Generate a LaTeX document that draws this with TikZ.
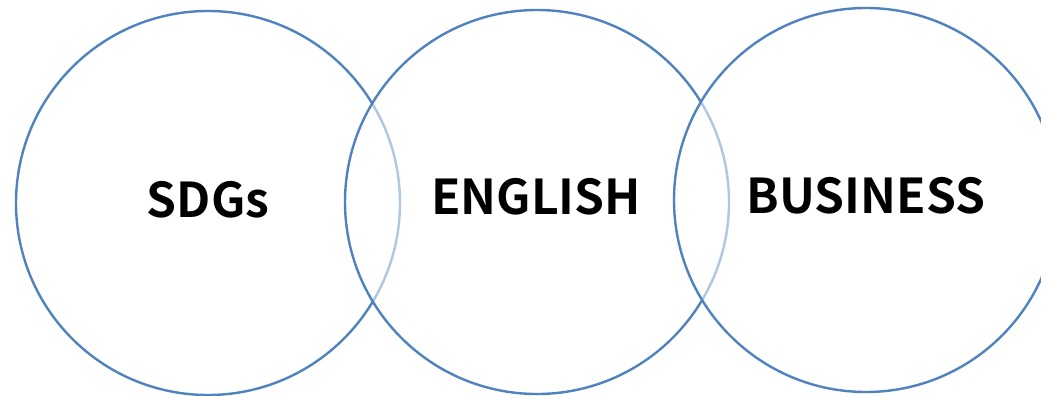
\documentclass[tikz,border=0pt]{standalone}
\usepackage{fontspec}
\newfontfamily\gothic{Noto Sans CJK JP}[BoldFont={* Bold}]
\usetikzlibrary{positioning}

\definecolor{ringblue}{RGB}{79,131,192}

\tikzset{
  ring/.style={circle, draw=ringblue, line width=2.4pt, fill=white, fill opacity=0.55,
    text opacity=1, minimum size=384pt, inner sep=0pt},
  lbl/.style={font=\gothic\bfseries\fontsize{48}{48}\selectfont, text=black}
}

\begin{document}
\begin{tikzpicture}[x=1pt,y=-1pt]
  \useasboundingbox (0,0) rectangle (1041,396);
  \clip (0,0) rectangle (1041,396);

  % circles
  \node[ring] (sdgs) at (208,203) {};
  \node[ring] (english) at (537,202) {};
  \node[ring] (business) at (866,200) {};

  % labels
  \node[lbl] (sdgslbl) at (208,200) {SDGs};
  \node[lbl] (englishlbl) at (536,197) {ENGLISH};
  \node[lbl] (businesslbl) at (866,196) {BUSINESS};
\end{tikzpicture}
\end{document}
